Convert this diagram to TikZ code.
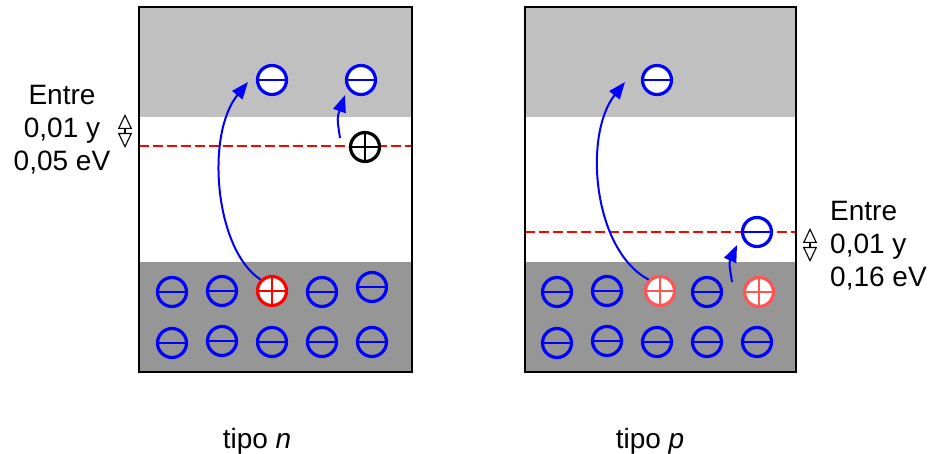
\documentclass[tikz,border=0pt]{standalone}
\usepackage{fontspec}
\setmainfont{Liberation Sans}
\usetikzlibrary{arrows.meta}
\definecolor{bandlight}{RGB}{192,192,192}
\definecolor{banddark}{RGB}{150,150,150}
\definecolor{holelight}{RGB}{255,85,85}
\begin{document}
\begin{tikzpicture}[x=1pt,y=-1pt,
  elec/.style={circle,draw=blue,line width=3.2pt,minimum size=29pt,inner sep=0pt,
    path picture={\draw[blue,line width=2.8pt] (path picture bounding box.west) -- (path picture bounding box.east);}},
  elecw/.style={elec,fill=white},
  holebase/.style={circle,line width=3.2pt,minimum size=29pt,inner sep=0pt,fill=white},
  hole/.style={holebase,draw=#1,
    path picture={\draw[#1,line width=2.8pt] (path picture bounding box.west) -- (path picture bounding box.east)
      (path picture bounding box.north) -- (path picture bounding box.south);}},
  level/.style={red,line width=2.6pt,dash pattern=on 10pt off 4pt},
  jump/.style={blue,line width=2pt,-{Triangle[length=17pt,width=13pt]}},
  gap/.style={black,line width=1.1pt,{Triangle[open,length=15pt,width=14pt]}-{Triangle[open,length=15pt,width=14pt]}},
  lbl/.style={font=\fontsize{28}{33}\selectfont,inner sep=0pt},
  boxframe/.style={draw=black,line width=2.2pt}
]
\useasboundingbox (0,0) rectangle (931,454);
% ---------- left box (tipo n)
\fill[bandlight] (139,7) rectangle (412,117);
\fill[banddark] (139,262) rectangle (412,372);
\draw[level] (139,146) -- (412,146);
\draw[boxframe] (139,7) rectangle (412,372);
% ---------- right box (tipo p)
\fill[bandlight] (525,7) rectangle (796,117);
\fill[banddark] (525,262) rectangle (796,372);
\draw[level] (525,232) -- (796,232);
\draw[boxframe] (525,7) rectangle (796,372);

% left: valence electrons
\node[elec] (a1) at (172,292) {};
\node[elec] (a2) at (222,291) {};
\node[hole=red] (ah) at (272,291) {};
\node[elec] (a4) at (322,292) {};
\node[elec] (a5) at (372,287) {};
\node[elec] (b1) at (172,343) {};
\node[elec] (b2) at (222,341) {};
\node[elec] (b3) at (272,342) {};
\node[elec] (b4) at (322,342) {};
\node[elec] (b5) at (372,342) {};
% left: conduction electrons and donor
\node[elecw] (c1) at (272,80) {};
\node[elecw] (c2) at (361,80) {};
\node[hole=black] (dn) at (365,147) {};
\coordinate (t1) at (248,82);
\coordinate (s2) at (340,138);
\coordinate (t2) at (345,95);
\draw[jump] (ah.135) .. controls (215,250) and (205,135) .. (t1);
\draw[jump] (s2) .. controls (337,118) .. (t2);

% right: valence
\node[elec] (p1) at (557,292) {};
\node[elec] (p2) at (607,291) {};
\node[hole=holelight] (ph1) at (660,291) {};
\node[elec] (p4) at (707,292) {};
\node[hole=holelight] (ph2) at (759,292) {};
\node[elec] (q1) at (557,343) {};
\node[elec] (q2) at (607,341) {};
\node[elec] (q3) at (657,342) {};
\node[elec] (q4) at (707,342) {};
\node[elec] (q5) at (757,342) {};
\node[elecw] (d1) at (657,80) {};
\node[elecw] (ac) at (757,232) {};
\coordinate (t3) at (625,82);
\coordinate (s4) at (732,282);
\coordinate (t4) at (737,245);
\draw[jump] (ph1.135) .. controls (593,250) and (583,135) .. (t3);
\draw[jump] (s4) .. controls (729,263) .. (t4);

% gap markers
\coordinate (g1a) at (125,114);
\coordinate (g1b) at (125,148);
\draw[gap] (g1a) -- (g1b);
\coordinate (g2a) at (810,228);
\coordinate (g2b) at (810,262);
\draw[gap] (g2a) -- (g2b);

% labels
\node[lbl,align=center] (l1) at (62,130) {Entre\\0,01 y\\0,05 eV};
\node[lbl,align=left,anchor=west] (l2) at (830,246) {Entre\\0,01 y\\0,16 eV};
\node[lbl,anchor=base] (n1) at (257,448) {tipo \textit{n}};
\node[lbl,anchor=base] (n2) at (650,448) {tipo \textit{p}};
\end{tikzpicture}
\end{document}
